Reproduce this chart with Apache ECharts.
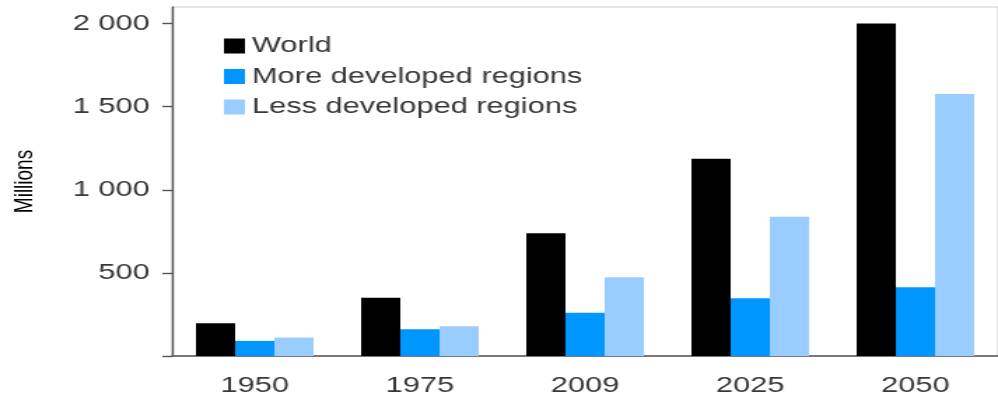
<!DOCTYPE html>
<html>
<head>
<meta charset="utf-8">
<script src="https://cdn.jsdelivr.net/npm/echarts@6/dist/echarts.min.js"></script>
<style>
  html, body { margin: 0; padding: 0; background: #fff; overflow: hidden; }
  /* the reference is a horizontally stretched picture, so the chart is drawn
     narrower and stretched back out to the full 998px */
  #chart {
    width: 713px;
    height: 401px;
    transform: scaleX(1.3997);
    transform-origin: 0 0;
  }
</style>
</head>
<body>
<div id="chart"></div>
<script>
const years = ['1950', '1975', '2009', '2025', '2050']
const world = [197, 350, 738, 1187, 2000]
const moreDeveloped = [91, 161, 260, 347, 413]
const lessDeveloped = [111, 179, 474, 838, 1577]
const yTickLabels = [500, 1000, 1500, 2000]
const yTicks = [0, 500, 1000, 1500, 2000]

const chart = echarts.init(document.getElementById('chart'))

const labelFont = {
  color: '#383838',
  fontFamily: 'Liberation Sans, Arial, sans-serif',
  fontSize: 22
}

const barSeries = (name, data, color) => ({
  name,
  type: 'bar',
  data,
  barWidth: 28,
  barGap: '0%',
  itemStyle: { color },
  emphasis: { disabled: true }
})

chart.setOption({
  animation: false,
  backgroundColor: '#fff',
  grid: {
    left: 119,
    right: -6,
    top: 7,
    bottom: 45,
    show: true,
    borderColor: '#cccccc',
    borderWidth: 1
  },
  legend: {
    orient: 'vertical',
    left: 155,
    top: 30,
    itemWidth: 15,
    itemHeight: 15,
    itemGap: 8.5,
    icon: 'rect',
    textStyle: { ...labelFont, lineHeight: 22 },
    data: ['World', 'More developed regions', 'Less developed regions']
  },
  xAxis: {
    type: 'category',
    data: years,
    axisLine: { lineStyle: { color: '#555', width: 1.5 } },
    axisTick: { show: false },
    axisLabel: { ...labelFont, margin: 19 }
  },
  yAxis: {
    type: 'value',
    min: 0,
    max: 2100,
    name: 'Millions',
    nameLocation: 'middle',
    nameGap: 96,
    nameRotate: 90,
    nameTextStyle: {
      color: '#000',
      fontFamily: 'Liberation Sans, Arial, sans-serif',
      fontSize: 19
    },
    axisLine: { show: true, lineStyle: { color: '#555', width: 1.4 } },
    axisTick: {
      show: true,
      inside: false,
      length: 7,
      customValues: yTicks,
      lineStyle: { color: '#555', width: 1.4 }
    },
    axisLabel: {
      ...labelFont,
      margin: 16,
      customValues: yTickLabels,
      formatter: v => String(v).replace(/\B(?=(\d{3})+(?!\d))/g, ' ')
    },
    splitLine: { show: false }
  },
  series: [
    barSeries('World', world, '#000000'),
    barSeries('More developed regions', moreDeveloped, '#0096ff'),
    barSeries('Less developed regions', lessDeveloped, '#99ccff')
  ]
})
</script>
</body>
</html>
